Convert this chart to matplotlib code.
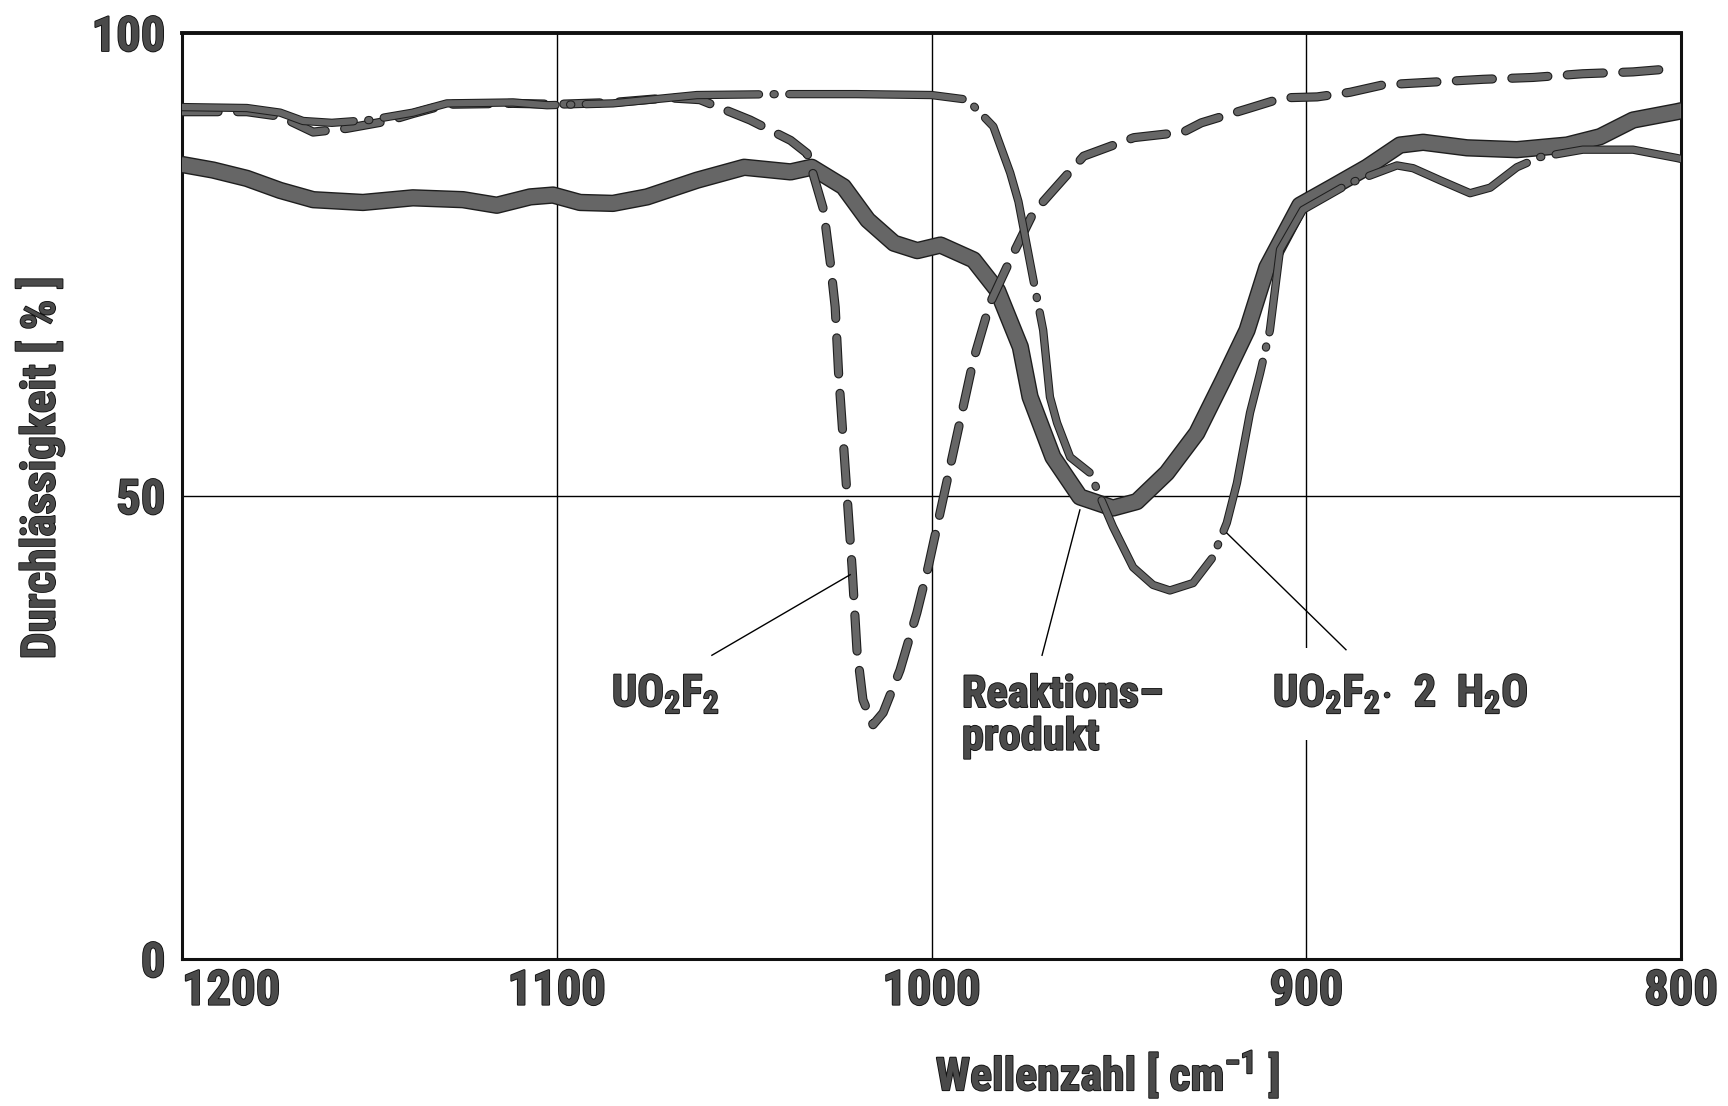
import matplotlib
matplotlib.use("Agg")
import matplotlib.pyplot as plt
import matplotlib.patheffects as pe
from matplotlib import font_manager as fm

# ---------------- data ----------------
# Reaktionsprodukt (thick solid line)
reak_wn = [1200, 1191.7, 1182.7, 1173.8, 1165, 1151.7, 1138.4, 1125, 1116, 1107.1,
           1101, 1093.8, 1085, 1075.9, 1062.6, 1050, 1037.6, 1032, 1023.5, 1017,
           1010, 1003.8, 997.6, 988.8, 982.4, 976.3, 973.7, 967.6, 960.4, 951.6,
           945.2, 937.2, 929.2, 922.2, 915.8, 910.5, 901.7, 892.9, 883.8, 875,
           868.8, 857.1, 843.8, 830.4, 821.6, 812.8, 801.1, 800]
reak_T = [85.8, 85.2, 84.3, 83.0, 82.0, 81.7, 82.2, 82.0, 81.4, 82.3,
          82.5, 81.7, 81.6, 82.3, 84.1, 85.5, 85.0, 85.5, 83.4, 79.8,
          77.3, 76.5, 77.1, 75.5, 72.2, 66.1, 60.7, 54.2, 49.9, 48.7,
          49.4, 52.5, 56.8, 62.5, 67.9, 74.7, 81.4, 83.4, 85.5, 87.9,
          88.2, 87.6, 87.4, 87.9, 88.8, 90.6, 91.5, 91.6]

# UO2F2 (dashed line)
uo2f2_wn = [1200, 1182.7, 1173.8, 1165, 1156, 1145, 1138.4, 1129.3, 1111.7, 1100,
            1085, 1070, 1061.8, 1048.4, 1037.6, 1033.2, 1028.8, 1027, 1025.7, 1024.8,
            1021.2, 1019.9, 1018.3, 1015.6, 1012.9, 1008.4, 1003.9, 1000.9, 988.8, 984.4,
            979, 972.8, 968.2, 959.4, 946, 932.8, 928, 915, 906.2, 897.1,
            888.3, 879.5, 866.2, 852.8, 839.5, 826.2, 812.8, 800.8]
uo2f2_T = [91.5, 91.5, 91.0, 89.3, 89.7, 90.5, 91.3, 92.3, 92.4, 92.3,
           92.5, 93.0, 92.8, 90.6, 88.4, 87.0, 80.9, 75.2, 70.4, 63.3,
           42.3, 33.4, 28.0, 25.3, 26.6, 31.2, 37.4, 42.3, 64.7, 70.8,
           75.5, 80.6, 82.7, 86.7, 88.7, 89.3, 90.3, 91.9, 93.0, 93.1,
           93.6, 94.4, 94.7, 95.0, 95.2, 95.6, 95.8, 96.2]

# UO2F2 . 2 H2O (dash-dot line)
hydr_wn = [1200, 1182.7, 1173.8, 1167.7, 1160, 1150, 1138.4, 1129.3, 1111.7, 1102.6,
           1085, 1062.6, 1040, 1020, 1000, 990.4, 983.5, 979, 976.8, 972.8,
           970.2, 968.4, 966.5, 963, 957.7, 955, 951.6, 946.2, 940.9, 936.4,
           930.2, 924.9, 921.2, 918.5, 915, 912.3, 909.7, 907, 900.9, 888.3,
           875.8, 871.5, 864.3, 856.3, 850.9, 843.8, 837.6, 826.2, 812.8, 801.1, 800]
hydr_T = [92.0, 91.9, 91.4, 90.5, 90.3, 90.6, 91.4, 92.4, 92.5, 92.2,
          92.4, 93.3, 93.4, 93.4, 93.3, 92.8, 89.9, 84.9, 81.8, 73.3,
          67.9, 60.7, 57.9, 54.2, 52.5, 49.9, 46.7, 42.3, 40.4, 39.8,
          40.6, 43.4, 47.1, 51.4, 59.0, 63.3, 67.9, 76.6, 80.9, 83.8,
          85.7, 85.4, 84.1, 82.7, 83.3, 85.5, 86.6, 87.4, 87.4, 86.5, 86.4]

x_ticks = [1200, 1100, 1000, 900, 800]
y_ticks = [0, 50, 100]
x_label = "Wellenzahl [ cm$^{-1}$ ]"
y_label = "Durchlässigkeit [ % ]"

# ---------------- fonts ----------------
def has_font(name):
    try:
        fm.findfont(fm.FontProperties(family=name), fallback_to_default=False)
        return True
    except Exception:
        return False

FONT = next((f for f in ["Liberation Sans Narrow", "Roboto Condensed",
                          "Liberation Sans", "DejaVu Sans"] if has_font(f)), "DejaVu Sans")
plt.rcParams["font.family"] = [FONT, "DejaVu Sans"]
plt.rcParams["font.weight"] = "bold"
plt.rcParams["mathtext.fontset"] = "custom"
plt.rcParams["mathtext.rm"] = FONT + ":bold"
plt.rcParams["mathtext.bf"] = FONT + ":bold"
plt.rcParams["mathtext.it"] = FONT + ":bold"
plt.rcParams["mathtext.default"] = "bf"
plt.rcParams["lines.scale_dashes"] = False

TXT = "#4a4a4a"
text_fx = [pe.withStroke(linewidth=1.3, foreground="#111111")]

# ---------------- figure ----------------
fig = plt.figure(figsize=(17.28, 11.06), dpi=100)
ax = fig.add_axes([182 / 1728, 1 - 959 / 1106, 1499 / 1728, 926 / 1106])
ax.set_xlim(1200, 800)
ax.set_ylim(0, 100)

ax.set_xticks(x_ticks)
ax.set_yticks(y_ticks)
ax.tick_params(length=0, labelsize=35)
ax.tick_params(axis="x", pad=7)
ax.tick_params(axis="y", pad=12)
for lab in ax.get_xticklabels() + ax.get_yticklabels():
    lab.set_color(TXT)
    lab.set_fontweight("bold")
    lab.set_path_effects(text_fx)
# first x label sits to the right of its tick (as in the reference)
ax.xaxis.get_major_ticks()[0].label1.set_horizontalalignment("left")

ax.grid(True, color="black", linewidth=1.0)
ax.set_axisbelow(True)
for s in ax.spines.values():
    s.set_linewidth(2.2)
    s.set_color("#111111")
ax.spines["top"].set_linewidth(2.8)

GRAY = "#666666"
OUT = "#1e1e1e"

# Reaktionsprodukt
ax.plot(reak_wn, reak_T, color=GRAY, lw=10.5, solid_capstyle="round",
        solid_joinstyle="round", zorder=3,
        path_effects=[pe.Stroke(linewidth=12.5, foreground=OUT), pe.Normal()])

# UO2F2 dashed
l1, = ax.plot(uo2f2_wn, uo2f2_T, color=GRAY, lw=5, zorder=4,
              dash_capstyle="round", dash_joinstyle="round",
              path_effects=[pe.Stroke(linewidth=6.6, foreground=OUT), pe.Normal()])
l1.set_dashes((26, 14))

# UO2F2 . 2H2O dash-dot
l2, = ax.plot(hydr_wn, hydr_T, color=GRAY, lw=4.5, zorder=4,
              dash_capstyle="round", dash_joinstyle="round",
              path_effects=[pe.Stroke(linewidth=6.0, foreground=OUT), pe.Normal()])
l2.set_dashes((125, 10.5, 0.8, 10.5))

# ---------------- annotations ----------------
fs_ann = 32
t1 = ax.text(1085.3, 28.6, r"UO$_2$F$_2$", fontsize=fs_ann, color=TXT,
             ha="left", va="center", zorder=5)
t2 = ax.text(991.9, 26.2, "Reaktions\u2013\nprodukt", fontsize=fs_ann, color=TXT,
             ha="left", va="center", linespacing=1.02, zorder=5)
t3 = ax.text(908.9, 28.6, r"UO$_2$F$_2$$\cdot$  2  H$_2$O", fontsize=fs_ann, color=TXT,
             ha="left", va="center", zorder=5,
             bbox=dict(boxstyle="square,pad=0.55", facecolor="white", edgecolor="none"))
for t in (t1, t2, t3):
    t.set_path_effects(text_fx)

ax.plot([1058.6, 1021.7], [32.8, 41.5], color="black", lw=1.0, zorder=6)
ax.plot([970.5, 960.4], [32.8, 48.5], color="black", lw=1.0, zorder=6)
ax.plot([889.4, 921.2], [33.4, 46.0], color="black", lw=1.0, zorder=6)

# ---------------- axis labels ----------------
xl = fig.text(1108 / 1728, 1 - 1074 / 1106, x_label, fontsize=33, color=TXT,
              ha="center", va="center")
yl = fig.text(40 / 1728, 1 - 468 / 1106, y_label, fontsize=34, color=TXT,
              ha="center", va="center", rotation=90)
for t in (xl, yl):
    t.set_path_effects(text_fx)

fig.savefig("out.png", dpi=100, facecolor="white")
